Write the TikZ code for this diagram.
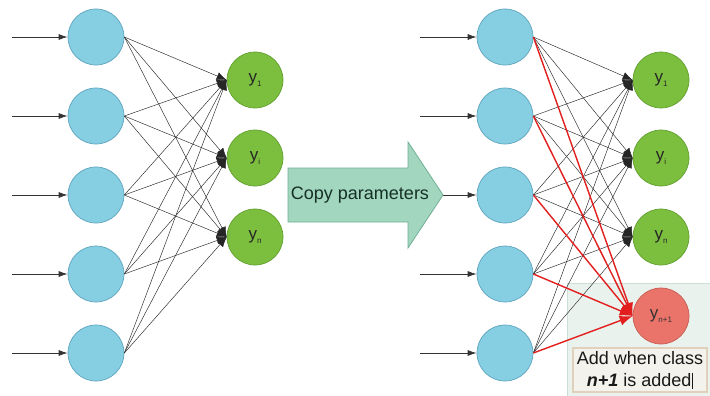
\documentclass[tikz,border=0pt]{standalone}
\usepackage{fontspec}
\setmainfont{Liberation Sans}
\usetikzlibrary{arrows.meta}
\definecolor{inpfill}{RGB}{134,206,226}
\definecolor{inpline}{RGB}{95,165,190}
\definecolor{outfill}{RGB}{124,190,62}
\definecolor{outline}{RGB}{98,160,48}
\definecolor{newfill}{RGB}{234,116,106}
\definecolor{newline}{RGB}{200,92,82}
\definecolor{arrfill}{RGB}{162,214,190}
\definecolor{arrline}{RGB}{112,176,150}
\definecolor{arrtext}{RGB}{22,48,40}
\definecolor{boxfill}{RGB}{233,242,236}
\definecolor{boxline}{RGB}{205,222,212}
\definecolor{notefill}{RGB}{244,242,236}
\definecolor{noteline}{RGB}{225,208,188}
\definecolor{redline}{RGB}{226,30,30}
\newcommand{\ysub}[1]{y\raisebox{-4pt}{\fontsize{8}{9}\selectfont #1}}
\tikzset{
  inp/.style={circle, minimum size=56pt, inner sep=0pt, fill=inpfill, draw=inpline, line width=0.7pt},
  outp/.style={circle, minimum size=56pt, inner sep=0pt, fill=outfill, draw=outline, line width=0.7pt, font=\fontsize{17}{18}\selectfont, text=black!85},
  newp/.style={circle, minimum size=56pt, inner sep=0pt, fill=newfill, draw=newline, line width=0.7pt, font=\fontsize{17}{18}\selectfont, text=black!80},
  inarrow/.style={line width=0.8pt, black!80, -{Latex[length=9pt,width=6pt]}},
  conn/.style={line width=0.45pt, black!85, -{Latex[length=10pt,width=8pt]}},
  redconn/.style={line width=1.4pt, redline, -{Latex[length=13pt,width=10pt]}},
  bigarrow/.style={fill=arrfill, draw=arrline, line width=0.8pt, line join=miter},
  notebox/.style={fill=notefill, draw=noteline, line width=1.2pt, minimum width=134pt, minimum height=44pt, align=center, inner sep=2pt, font=\fontsize{18}{22}\selectfont, text=black!90},
}
\begin{document}
\begin{tikzpicture}[x=1pt,y=-1pt]
\useasboundingbox (0,0) rectangle (710,396);
\fill[white] (0,0) rectangle (710,396);
% background panel for the new class
\draw[fill=boxfill, draw=boxline, line width=0.8pt] (567,283) rectangle (714,400);
% input neurons and their input arrows
\foreach \i/\yy in {1/37,2/116,3/195,4/274,5/353} {
  \node[inp] (a\i) at (96,\yy) {};
  \node[inp] (b\i) at (505,\yy) {};
  \coordinate (sa\i) at (12,\yy);
  \coordinate (sb\i) at (420,\yy);
  \draw[inarrow] (sa\i) -- (a\i);
  \draw[inarrow] (sb\i) -- (b\i);
}
% output neurons
\node[outp] (o1) at (255,80) {\ysub{1}};
\node[outp] (o2) at (255,158) {\ysub{i}};
\node[outp] (o3) at (255,237) {\ysub{n}};
\node[outp] (p1) at (661,80) {\ysub{1}};
\node[outp] (p2) at (661,158) {\ysub{i}};
\node[outp] (p3) at (661,237) {\ysub{n}};
\node[newp] (pn) at (661,316) {\ysub{n+1}};
% connections
\foreach \i in {1,...,5} {
  \foreach \j in {1,2,3} {
    \draw[conn] (a\i.east) -- (o\j.west);
    \draw[conn] (b\i.east) -- (p\j.west);
  }
}
\foreach \i in {1,...,5} {
  \draw[redconn] (b\i.east) -- (pn.west);
}
% copy parameters arrow
\draw[bigarrow] (288,168) -- (408,168) -- (408,142) -- (443,195) -- (408,248) -- (408,222) -- (288,222) -- cycle;
\node[font=\fontsize{18}{22}\selectfont, text=arrtext] (copy) at (360,195) {Copy parameters};
% note
\node[notebox] (note) at (640,370) {Add when class\\\textbf{\textit{n+1}} is added\hspace{1pt}\rule[-3pt]{0.9pt}{16pt}};
\end{tikzpicture}
\end{document}
